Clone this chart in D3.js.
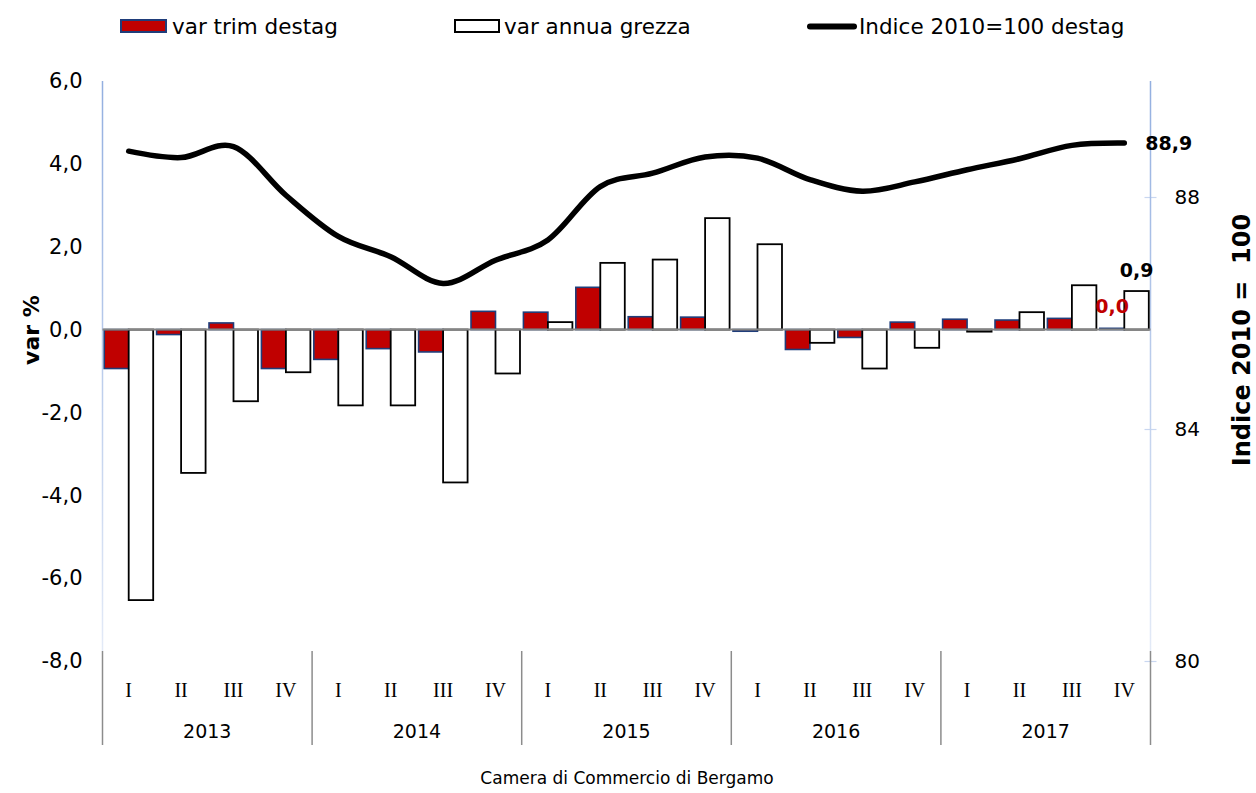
<!DOCTYPE html>
<html>
<head>
<meta charset="utf-8">
<script src="https://cdn.jsdelivr.net/npm/d3@7"></script>
<style>
  html, body { margin: 0; padding: 0; background: #fff; }
  svg { display: block; font-family: "DejaVu Sans", Verdana, sans-serif; }
</style>
</head>
<body>
<svg id="chart" width="1256" height="793"></svg>
<script>
// Years and quarters on the category axis
const years = ["2013", "2014", "2015", "2016", "2017"];
const quarters = ["I", "II", "III", "IV"];

// Quarterly change, seasonally adjusted (%)
const varTrimDestag = [-0.94, -0.12, 0.16, -0.94, -0.72, -0.46, -0.54, 0.44,
                       0.42, 1.02, 0.31, 0.30, -0.04, -0.48, -0.19, 0.18,
                       0.25, 0.23, 0.27, 0.03];
// Annual change, raw (%)
const varAnnuaGrezza = [-6.53, -3.46, -1.73, -1.03, -1.83, -1.83, -3.69, -1.06,
                        0.18, 1.61, 1.69, 2.69, 2.06, -0.32, -0.94, -0.44,
                        -0.05, 0.42, 1.07, 0.93];
// Index 2010=100, seasonally adjusted
const indiceDestag = [88.79, 88.68, 88.87, 88.03, 87.32, 86.97, 86.51, 86.91,
                      87.26, 88.18, 88.41, 88.69, 88.67, 88.30, 88.10, 88.26,
                      88.47, 88.66, 88.89, 88.93];

// Axis ticks
const leftTicks = [-8, -6, -4, -2, 0, 2, 4, 6];
const rightTicks = [80, 84, 88];

const seriesNames = ["var trim destag", "var annua grezza", "Indice 2010=100 destag"];

const categories = [];
years.forEach(y => quarters.forEach(q => categories.push(y + "-" + q)));

// One decimal, comma separator, plain hyphen for negatives
const fmt1 = v => d3.format(".1f")(v).replace(".", ",").replace("\u2212", "-");

const svg = d3.select("#chart");
const plot = { left: 102.5, right: 1150.5, top: 81, bottom: 661 };

const x = d3.scaleBand().domain(categories).range([plot.left, plot.right]).padding(0);
const xSub = d3.scaleBand().domain(["trim", "annua"]).range([0, x.bandwidth()])
  .paddingInner(0).paddingOuter(0.07);
const yL = d3.scaleLinear().domain([-8, 6]).range([plot.bottom, plot.top]);
const yR = d3.scaleLinear().domain([80, 90]).range([plot.bottom, plot.top]);

const RED = "#c00000", NAVY = "#1f3d7a";

// Gradient used by both vertical axis lines
const defs = svg.append("defs");
const grad = defs.append("linearGradient").attr("id", "axisFade")
  .attr("x1", 0).attr("y1", 0).attr("x2", 0).attr("y2", 1)
  .attr("gradientUnits", "objectBoundingBox");
grad.append("stop").attr("offset", "0%").attr("stop-color", "#93afe0");
grad.append("stop").attr("offset", "100%").attr("stop-color", "#e3eaf7");

// Left axis
const gL = svg.append("g").attr("transform", `translate(${plot.left},0)`)
  .call(d3.axisLeft(yL).tickValues(leftTicks).tickFormat(fmt1).tickSize(0).tickPadding(20));
gL.select(".domain").remove();
gL.selectAll("text").attr("font-size", 21).attr("fill", "#000")
  .attr("font-family", "DejaVu Sans, Verdana, sans-serif");
svg.append("rect").attr("x", plot.left - 0.75).attr("y", plot.top)
  .attr("width", 1.5).attr("height", plot.bottom - plot.top - 10).attr("fill", "url(#axisFade)");

// Right axis
const gR = svg.append("g").attr("transform", `translate(${plot.right},0)`)
  .call(d3.axisRight(yR).tickValues(rightTicks).tickSize(6).tickPadding(18));
gR.select(".domain").remove();
gR.selectAll("line").attr("x1", -6).attr("x2", 6).attr("stroke", "#c9d7f0").attr("stroke-width", 1.2);
gR.selectAll("text").attr("font-size", 20).attr("fill", "#000")
  .attr("font-family", "DejaVu Sans, Verdana, sans-serif");
svg.append("rect").attr("x", plot.right - 0.75).attr("y", plot.top)
  .attr("width", 1.5).attr("height", plot.bottom - plot.top - 10).attr("fill", "url(#axisFade)");

// Axis titles
svg.append("text").attr("transform", "translate(39,330) rotate(-90)")
  .attr("text-anchor", "middle").attr("font-weight", "bold").attr("font-size", 22)
  .text("var %");
svg.append("text").attr("transform", "translate(1250,340) rotate(-90)")
  .attr("text-anchor", "middle").attr("font-weight", "bold").attr("font-size", 24)
  .style("white-space", "pre")
  .text("Indice 2010 =  100");

// Bars
const bars = svg.append("g");
bars.selectAll("rect.trim").data(varTrimDestag).join("rect").attr("class", "trim")
  .attr("x", (d, i) => x(categories[i]) + xSub("trim"))
  .attr("width", xSub.bandwidth())
  .attr("y", d => yL(Math.max(0, d)))
  .attr("height", d => Math.max(1, Math.abs(yL(d) - yL(0))))
  .attr("fill", RED).attr("stroke", NAVY).attr("stroke-width", 1.6);
bars.selectAll("rect.annua").data(varAnnuaGrezza).join("rect").attr("class", "annua")
  .attr("x", (d, i) => x(categories[i]) + xSub("annua"))
  .attr("width", xSub.bandwidth())
  .attr("y", d => yL(Math.max(0, d)))
  .attr("height", d => Math.max(1, Math.abs(yL(d) - yL(0))))
  .attr("fill", "#fff").attr("stroke", "#000").attr("stroke-width", 1.8);

// Zero line
svg.append("line").attr("x1", plot.left).attr("x2", plot.right)
  .attr("y1", yL(0)).attr("y2", yL(0)).attr("stroke", "#858585").attr("stroke-width", 2);

// Category axis: quarter labels, year labels, separators
const gX = svg.append("g");
gX.selectAll("text.q").data(categories).join("text").attr("class", "q")
  .attr("x", d => x(d) + x.bandwidth() / 2).attr("y", 697)
  .attr("text-anchor", "middle").attr("font-family", "Liberation Serif, Times New Roman, serif")
  .attr("font-size", 20).text(d => d.split("-")[1]);
const yearX = y => (x(y + "-I") + x(y + "-IV") + x.bandwidth()) / 2;
gX.selectAll("text.y").data(years).join("text").attr("class", "y")
  .attr("x", yearX).attr("y", 738).attr("text-anchor", "middle")
  .attr("font-size", 19).text(d => d);
const sepX = years.map(y => x(y + "-I")).concat([plot.right]);
gX.selectAll("line.sep").data(sepX).join("line").attr("class", "sep")
  .attr("x1", d => d).attr("x2", d => d).attr("y1", plot.bottom - 10).attr("y2", 745)
  .attr("stroke", "#8c8c8c").attr("stroke-width", 1.5);

// Index line (right axis)
const line = d3.line()
  .x((d, i) => x(categories[i]) + x.bandwidth() / 2)
  .y(d => yR(d))
  .curve(d3.curveCardinal.tension(0));
svg.append("path").datum(indiceDestag).attr("d", line)
  .attr("fill", "none").attr("stroke", "#000").attr("stroke-width", 5.5)
  .attr("stroke-linecap", "round").attr("stroke-linejoin", "round");

// Data labels for the last quarter
const last = categories.length - 1;
svg.append("text")
  .attr("x", x(categories[last]) + x.bandwidth() / 2 + 21)
  .attr("y", yR(indiceDestag[last]) + 7)
  .attr("font-weight", "bold").attr("font-size", 19).text(fmt1(indiceDestag[last]));
svg.append("text")
  .attr("x", x(categories[last]) + xSub("annua") + xSub.bandwidth() / 2)
  .attr("y", yL(Math.max(0, varAnnuaGrezza[last])) - 14)
  .attr("text-anchor", "middle").attr("font-weight", "bold").attr("font-size", 19)
  .text(fmt1(varAnnuaGrezza[last]));
svg.append("text")
  .attr("x", x(categories[last]) + xSub("trim") + xSub.bandwidth() / 2)
  .attr("y", yL(Math.max(0, varTrimDestag[last])) - 15)
  .attr("text-anchor", "middle").attr("font-weight", "bold").attr("font-size", 19)
  .attr("fill", RED).text(fmt1(varTrimDestag[last]));

// Legend
const legend = svg.append("g");
legend.append("rect").attr("x", 121).attr("y", 20).attr("width", 45).attr("height", 12)
  .attr("fill", RED).attr("stroke", NAVY).attr("stroke-width", 2);
legend.append("text").attr("x", 172).attr("y", 34).attr("font-size", 21.5).text(seriesNames[0]);
legend.append("rect").attr("x", 455).attr("y", 20).attr("width", 44).attr("height", 12)
  .attr("fill", "#fff").attr("stroke", "#000").attr("stroke-width", 2);
legend.append("text").attr("x", 504).attr("y", 34).attr("font-size", 21.5).text(seriesNames[1]);
legend.append("line").attr("x1", 810).attr("x2", 854).attr("y1", 26.5).attr("y2", 26.5)
  .attr("stroke", "#000").attr("stroke-width", 6).attr("stroke-linecap", "round");
legend.append("text").attr("x", 859).attr("y", 34).attr("font-size", 21.5).text(seriesNames[2]);

// Source note
svg.append("text").attr("x", 627).attr("y", 784).attr("text-anchor", "middle")
  .attr("font-size", 17).text("Camera di Commercio di Bergamo");
</script>
</body>
</html>
